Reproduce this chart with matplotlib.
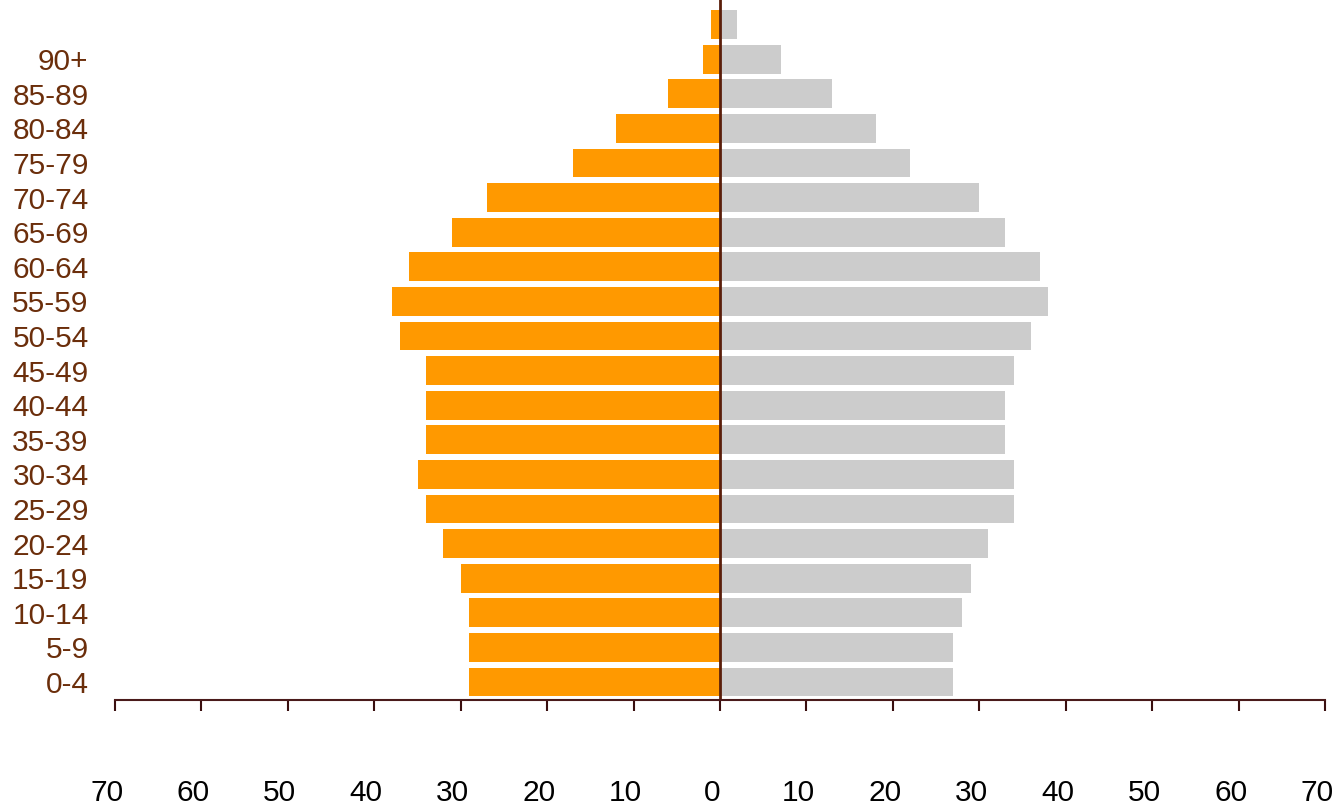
import numpy as np
import matplotlib
matplotlib.use("Agg")
import matplotlib.pyplot as plt
import matplotlib.transforms as mtransforms

# age groups, bottom to top (top bar has no label)
age_groups = ['0-4', '5-9', '10-14', '15-19', '20-24', '25-29', '30-34', '35-39',
              '40-44', '45-49', '50-54', '55-59', '60-64', '65-69', '70-74',
              '75-79', '80-84', '85-89', '90+', '']
left_vals = [29, 29, 29, 30, 32, 34, 35, 34, 34, 34, 37, 38, 36, 31, 27, 17, 12, 6, 2, 1]
right_vals = [27, 27, 28, 29, 31, 34, 34, 33, 33, 34, 36, 38, 37, 33, 30, 22, 18, 13, 7, 2]
xticks = np.arange(-70, 71, 10)

plt.rcParams['font.family'] = ['Liberation Sans', 'DejaVu Sans']

fig = plt.figure(figsize=(13.4, 8.08), dpi=100)
ax = fig.add_axes([115 / 1340, 108 / 808, 1210 / 1340, 700 / 808])

y = np.arange(len(age_groups))
ax.barh(y, [-v for v in left_vals], height=0.83, color='#FF9900', linewidth=0)
ax.barh(y, right_vals, height=0.83, color='#CCCCCC', linewidth=0)
ax.axvline(0, color='#5A1E0A', linewidth=2)

ax.set_xlim(-70, 70)
ax.set_ylim(-0.52, 19.71)

for s in ['top', 'right', 'left']:
    ax.spines[s].set_visible(False)
ax.spines['bottom'].set_color('#4A1A1A')
ax.spines['bottom'].set_linewidth(1.5)

ax.set_yticks(y[:-1])
ax.set_yticklabels(age_groups[:-1], fontsize=21.5, color='#6B2E0B')
ax.tick_params(axis='y', length=0, pad=19)

ax.set_xticks(xticks)
ax.set_xticklabels([str(abs(t)) for t in xticks], fontsize=21.5, color='black')
ax.tick_params(axis='x', direction='out', length=8, width=1.5, color='#3A0F0F', pad=49)
offset = mtransforms.ScaledTranslation(-8 / 100, 0, fig.dpi_scale_trans)
for lab in ax.get_xticklabels():
    lab.set_transform(lab.get_transform() + offset)

fig.savefig('out.png', dpi=100)
